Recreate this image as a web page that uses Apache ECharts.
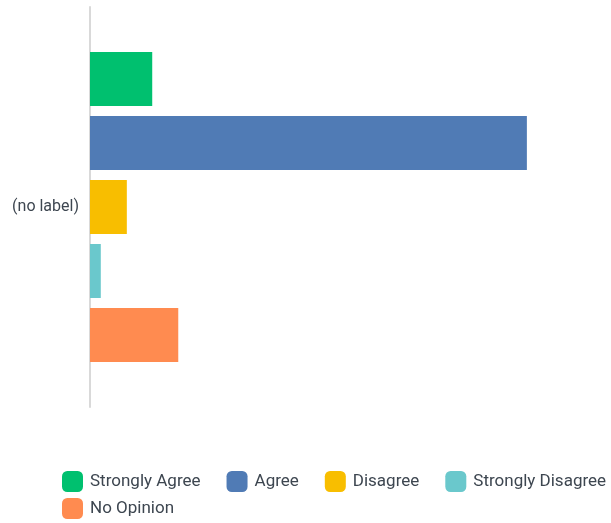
<!DOCTYPE html>
<html><head><meta charset="utf-8">
<script src="https://cdn.jsdelivr.net/npm/echarts@6/dist/echarts.min.js"></script>
<style>html,body{margin:0;padding:0;background:#fff}#c{width:611px;height:523px}</style>
</head><body><div id="c"></div>
<script>
const categories = ['(no label)'];
const seriesNames = ['Strongly Agree','Agree','Disagree','Strongly Disagree','No Opinion'];
const seriesValues = [[9.8],[68.8],[5.8],[1.7],[13.9]];
const colors = ['#00c06f','#507bb5','#f8be00','#6ac8cc','#ff8b50'];

const legendBase = {
  left:62, padding:0,
  itemWidth:21, itemHeight:21, itemGap:26,
  icon:'roundRect',
  textStyle:{fontFamily:'Roboto', fontSize:17, color:'#3d4650', padding:[0,0,0,2]}
};

const chart = echarts.init(document.getElementById('c'));
chart.setOption({
  animation:false,
  color: colors,
  grid:{left:90, top:7, bottom:116, right:13},
  legend:[
    Object.assign({}, legendBase, {top:471, data: seriesNames.slice(0,4)}),
    Object.assign({}, legendBase, {top:498, data: seriesNames.slice(4)})
  ],
  xAxis:{type:'value', min:0, max:80, show:false},
  yAxis:{type:'category', data:categories, inverse:true,
    axisLine:{show:true, lineStyle:{color:'#d9d9d9', width:2}},
    axisTick:{show:false},
    axisLabel:{fontFamily:'Roboto', fontSize:16, color:'#3d4650', margin:11}
  },
  series: seriesNames.map((n,i)=>({
    name:n, type:'bar', data:seriesValues[i], barWidth:54, barGap:'18.5%'
  }))
});
</script></body></html>
